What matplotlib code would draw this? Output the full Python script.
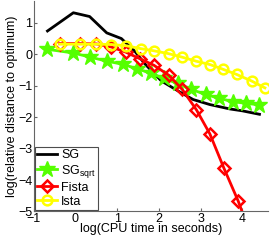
import numpy as np
import matplotlib
matplotlib.use("Agg")
import matplotlib.pyplot as plt

plt.rcParams['font.family'] = ['Liberation Sans', 'DejaVu Sans']
plt.rcParams['mathtext.fontset'] = 'custom'
plt.rcParams['mathtext.rm'] = 'Liberation Sans'

# SG (plain black line)
sg_x = [-0.67, -0.05, 0.34, 0.75, 1.1, 1.42, 1.66, 2.06, 2.5, 2.82, 3.22, 3.7, 4.0, 4.41]
sg_y = [0.74, 1.32, 1.2, 0.68, 0.5, 0.1, -0.3, -0.85, -1.2, -1.44, -1.6, -1.74, -1.8, -1.91]

# SG_sqrt (green stars)
sgs_x = [-0.69, -0.05, 0.35, 0.75, 1.14, 1.47, 1.80, 2.12, 2.46, 2.78, 3.12, 3.44, 3.77, 4.08, 4.41]
sgs_y = [0.16, 0.04, -0.09, -0.22, -0.32, -0.46, -0.60, -0.77, -0.93, -1.12, -1.28, -1.40, -1.51, -1.56, -1.61]

# Fista (red diamonds)
fista_x = [-0.38, 0.10, 0.50, 0.86, 1.20, 1.54, 1.88, 2.24, 2.56, 2.90, 3.22, 3.56, 3.90, 4.24]
fista_y = [0.34, 0.34, 0.33, 0.23, 0.07, -0.14, -0.35, -0.67, -1.12, -1.77, -2.53, -3.63, -4.67, -5.9]

# Ista (yellow circles)
ista_x = [-0.38, 0.10, 0.50, 0.86, 1.22, 1.56, 1.88, 2.23, 2.55, 2.89, 3.23, 3.54, 3.86, 4.22, 4.54]
ista_y = [0.32, 0.32, 0.32, 0.31, 0.27, 0.18, 0.11, 0.02, -0.09, -0.22, -0.33, -0.48, -0.64, -0.85, -1.07]

fig = plt.figure(figsize=(2.74, 2.40), dpi=100)
ax = fig.add_axes([0.123, 0.119, 0.856, 0.875])

ax.plot(sg_x, sg_y, color='black', lw=2, label='SG')
ax.plot(sgs_x, sgs_y, color='#55ff00', lw=2, marker='*', ms=12, mew=1,
        label=r'SG$_{\mathrm{sqrt}}$')
ax.plot(fista_x, fista_y, color='red', lw=2, marker='D', ms=6, mew=1.8,
        mfc='none', label='Fista')
ax.plot(ista_x, ista_y, color='#ffff00', lw=2, marker='o', ms=7, mew=1.8,
        mfc='none', label='Ista')

ax.set_xlim(-1, 4.62)
ax.set_ylim(-5, 1.68)
ax.set_xticks(range(-1, 5))
ax.set_yticks(range(-5, 2))
ax.set_xticklabels([u'\u22121', '0', '1', '2', '3', '4'])
ax.set_yticklabels([u'\u22125', u'\u22124', u'\u22123', u'\u22122', u'\u22121', '0', '1'])
ax.tick_params(direction='in', length=2, labelsize=9, pad=1, color='0.4')
for s in ['top', 'right']:
    ax.spines[s].set_visible(False)
for s in ['left', 'bottom']:
    ax.spines[s].set_color('0.4')
    ax.spines[s].set_linewidth(0.8)

ax.set_xlabel('log(CPU time in seconds)', fontsize=9, labelpad=-1)
ax.set_ylabel('log(relative distance to optimum)', fontsize=9, labelpad=0)

leg = ax.legend(loc='lower left', bbox_to_anchor=(0.0, 0.0), fontsize=9,
                fancybox=False, framealpha=1, edgecolor='0.3',
                handlelength=1.6, handletextpad=0.3, labelspacing=0.15,
                borderpad=0.2, borderaxespad=0.1)
leg.get_frame().set_linewidth(0.8)

fig.savefig('out.png', dpi=100)
